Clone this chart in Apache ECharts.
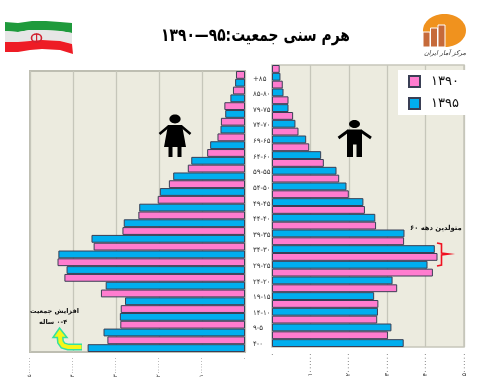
<!DOCTYPE html>
<html><head><meta charset="utf-8">
<script src="https://cdn.jsdelivr.net/npm/echarts@6/dist/echarts.min.js"></script>
<style>html,body{margin:0;padding:0;background:#fff}#c{width:489px;height:391px}</style>
</head><body><div id="c"></div>
<script>
const ageGroups = ['+۸۵','۸۵-۸۰','۷۹-۷۵','۷۴-۷۰','۶۹-۶۵','۶۴-۶۰','۵۹-۵۵','۵۴-۵۰','۴۹-۴۵','۴۴-۴۰','۳۹-۳۵','۳۴-۳۰','۲۹-۲۵','۲۴-۲۰','۱۹-۱۵','۱۴-۱۰','۹-۵','۴-۰'];
const female1390 = [210000,280000,480000,560000,640000,880000,1330000,1770000,2030000,2480000,2850000,3520000,4360000,4200000,3350000,2890000,2900000,3200000];
const female1395 = [230000,340000,460000,570000,810000,1250000,1670000,1980000,2460000,2820000,3570000,4340000,4150000,3240000,2790000,2910000,3290000,3660000];
const male1390 = [200000,280000,430000,550000,690000,970000,1350000,1750000,2000000,2420000,2710000,3440000,4310000,4190000,3260000,2770000,2740000,3020000];
const male1395 = [220000,300000,430000,610000,890000,1280000,1680000,1940000,2380000,2690000,3450000,4240000,4050000,3140000,2660000,2760000,3110000,3430000];
const tickLabels = ['۰','۱۰۰۰۰۰۰','۲۰۰۰۰۰۰','۳۰۰۰۰۰۰','۴۰۰۰۰۰۰','۵۰۰۰۰۰۰'];
const name1390 = '۱۳۹۰', name1395 = '۱۳۹۵';
const titleText = 'هرم سنی جمعیت:۹۵—۱۳۹۰';

const PINK='#FF7CCF', BLUE='#00AEEF', EDGE='#3A3F55', BG='#ECEBDF', GRID='#C6C6BA';
const FONT='"DejaVu Sans"';
const tickFmt = v => tickLabels[Math.round(v/1000000)];
const barStyle = c => ({color:c,borderColor:EDGE,borderWidth:1});
function valueAxis(idx,inverse,size,margin){
  return {type:'value',gridIndex:idx,min:0,max:5000000,interval:1000000,inverse,
    axisLine:{show:false},axisTick:{show:false},
    splitLine:{show:true,lineStyle:{color:GRID,width:1.3}},
    axisLabel:{rotate:90,fontFamily:FONT,fontSize:size,color:'#333',margin,formatter:tickFmt}};
}
function bars(name,data,c,idx){
  return {type:'bar',name,data,xAxisIndex:idx,yAxisIndex:idx,barWidth:'50%',barGap:0,itemStyle:barStyle(c),silent:true};
}
const chart = echarts.init(document.getElementById('c'),null,{renderer:'canvas'});
chart.setOption({
  animation:false,
  backgroundColor:'#fff',
  grid:[
    {left:30,top:71,width:215,height:281,show:true,backgroundColor:BG,borderColor:'#BEBEB2',borderWidth:2},
    {left:272,top:65,width:192,height:282,show:true,backgroundColor:BG,borderColor:GRID,borderWidth:1.5}
  ],
  xAxis:[valueAxis(0,true,5.4,5),valueAxis(1,false,6.2,6)],
  yAxis:[
    {type:'category',gridIndex:0,inverse:true,position:'right',data:ageGroups,
     axisLine:{show:false},axisTick:{show:false},
     axisLabel:{interval:0,fontFamily:FONT,fontSize:7,color:'#333',margin:8}},
    {type:'category',gridIndex:1,inverse:true,data:ageGroups,
     axisLine:{show:false},axisTick:{show:false},axisLabel:{show:false}}
  ],
  legend:{show:true,data:[name1390,name1395],orient:'vertical',left:398,top:70,width:66,height:45,
    backgroundColor:'#fff',padding:[5,7,5,10],itemWidth:11,itemHeight:11,itemGap:9,
    textStyle:{fontFamily:FONT,fontSize:13,color:'#111',padding:[0,0,0,6]},selectedMode:false,icon:'rect'},
  series:[
    bars(name1390,female1390,PINK,0),bars(name1395,female1395,BLUE,0),
    bars(name1390,male1390,PINK,1),bars(name1395,male1395,BLUE,1)
  ],
  graphic:{elements:[
    {type:'text',x:161,y:27,scaleX:0.77,z:20,style:{text:titleText,fontFamily:FONT,fontWeight:'bold',fontSize:18,fill:'#000'}},
    // annotations
    {type:'text',left:410,top:225,z:20,style:{text:'متولدین دهه ۶۰',fontFamily:FONT,fontWeight:'bold',fontSize:6.8,fill:'#111'}},
    {type:'text',left:30,top:308,z:20,style:{text:'افزایش جمعیت',fontFamily:FONT,fontWeight:'bold',fontSize:6.5,fill:'#111'}},
    {type:'text',left:39,top:319,z:20,style:{text:'\u200F۰-۴ ساله',fontFamily:FONT,fontWeight:'bold',fontSize:6.5,fill:'#111'}},
    // bracket
    {type:'polyline',z:20,shape:{points:[[437,243],[441.5,244],[441.5,253],[449,254],[441.5,255],[441.5,265],[437,266]]},style:{stroke:'#F01020',fill:null,lineWidth:1.6}},
    // yellow arrow
    {type:'polyline',z:20,shape:{points:[[82,347],[68,347],[63,345.5],[60.5,342],[60,337]]},style:{stroke:'#35E0A0',fill:null,lineWidth:7}},
    {type:'polygon',z:20,shape:{points:[[59.5,328],[67,337.5],[53,337.5]]},style:{stroke:'#35E0A0',fill:'#F6F61A',lineWidth:1.5}},
    {type:'polyline',z:21,shape:{points:[[81.5,347],[68,347],[63,345.5],[60.5,342],[60,336]]},style:{stroke:'#F6F61A',fill:null,lineWidth:4}},
    // female icon
    {type:'ellipse',z:20,shape:{cx:175,cy:119,rx:5.6,ry:4.4},style:{fill:'#000'}},
    {type:'polygon',z:20,shape:{points:[[168,125],[182,125],[186,147],[164,147]]},style:{fill:'#000'}},
    {type:'polyline',z:20,shape:{points:[[169,126],[159.5,134]]},style:{stroke:'#000',lineWidth:2.6}},
    {type:'polyline',z:20,shape:{points:[[181,126],[190.5,134]]},style:{stroke:'#000',lineWidth:2.6}},
    {type:'rect',z:20,shape:{x:168.5,y:146,width:4,height:11},style:{fill:'#000'}},
    {type:'rect',z:20,shape:{x:177.5,y:146,width:4,height:11},style:{fill:'#000'}},
    // male icon
    {type:'ellipse',z:20,shape:{cx:354.5,cy:124,rx:5.5,ry:4},style:{fill:'#000'}},
    {type:'rect',z:20,shape:{x:347,y:129.5,width:15,height:15},style:{fill:'#000'}},
    {type:'polyline',z:20,shape:{points:[[348,131],[338.5,138]]},style:{stroke:'#000',lineWidth:2.8}},
    {type:'polyline',z:20,shape:{points:[[361,131],[371,138]]},style:{stroke:'#000',lineWidth:2.8}},
    {type:'rect',z:20,shape:{x:347,y:144,width:6,height:13},style:{fill:'#000'}},
    {type:'rect',z:20,shape:{x:356.5,y:144,width:5.5,height:13},style:{fill:'#000'}},
    // flag
    {type:'polygon',z:20,shape:{points:[[5,22],[18,23],[32,21],[46,21],[60,22],[72,23],[72,33],[60,31],[42,30],[30,30],[18,32],[5,31]]},style:{fill:'#1F9A3C'}},
    {type:'polygon',z:20,shape:{points:[[5,31],[18,32],[30,30],[42,30],[60,31],[72,33],[72,44],[60,41],[42,40],[30,41],[18,42],[5,42]]},style:{fill:'#E6E6E6'}},
    {type:'polygon',z:20,shape:{points:[[5,42],[18,42],[30,41],[42,40],[60,41],[72,44],[73,54],[60,50],[42,49],[30,50],[18,52],[5,52]]},style:{fill:'#EE1C25'}},
    {type:'ellipse',z:21,shape:{cx:36.5,cy:38,rx:5,ry:4},style:{fill:'none',stroke:'#D02030',lineWidth:1.6}},
    {type:'rect',z:21,shape:{x:36,y:33.5,width:1.2,height:9},style:{fill:'#D02030'}},
    // logo
    {type:'ellipse',z:20,shape:{cx:444.5,cy:30.5,rx:21.5,ry:16.5},style:{fill:'#F0921E'}},
    {type:'rect',z:21,shape:{x:423,y:32,width:7,height:15},style:{fill:'#C66A3A',stroke:'#fff',lineWidth:1}},
    {type:'rect',z:21,shape:{x:430.5,y:28,width:7,height:19},style:{fill:'#C66A3A',stroke:'#fff',lineWidth:1}},
    {type:'rect',z:21,shape:{x:438,y:25,width:7,height:22},style:{fill:'#C66A3A',stroke:'#fff',lineWidth:1}},
    {type:'text',left:424,top:50,z:20,style:{text:'مرکز آمار ایران',fontFamily:FONT,fontStyle:'italic',fontSize:6.5,fill:'#333'}}
  ]}
});
</script></body></html>
